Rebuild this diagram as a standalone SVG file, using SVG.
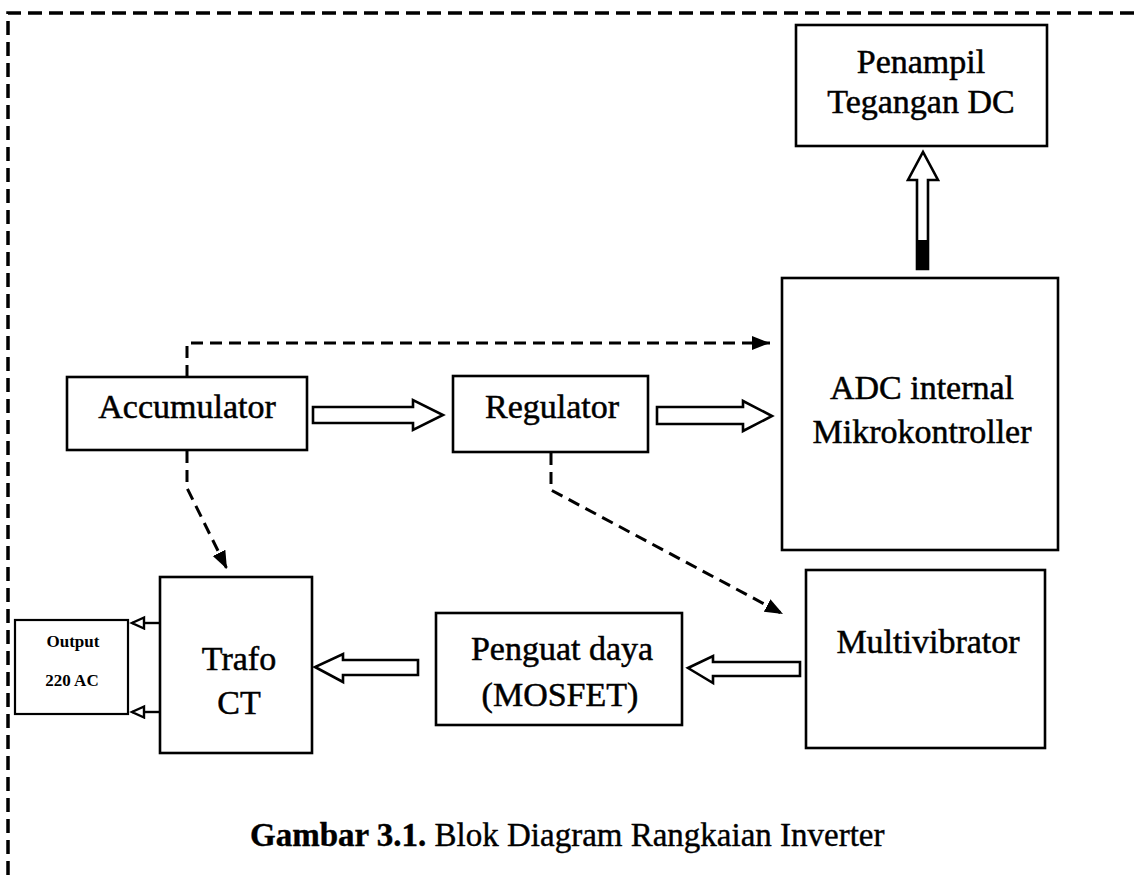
<svg xmlns="http://www.w3.org/2000/svg" width="1139" height="875" viewBox="0 0 1139 875">
  <style>
    .box { fill: #fff; stroke: #000; stroke-width: 2.6; }
    .lbl { font-family: "Liberation Serif", "Times New Roman", serif; font-size: 34px; fill: #000; stroke: #000; stroke-width: 0.5; text-anchor: middle; }
    .sm { font-family: "Liberation Serif", "Times New Roman", serif; font-size: 17px; font-weight: bold; fill: #000; text-anchor: middle; }
    .blk { fill: #fff; stroke: #000; stroke-width: 2.6; stroke-linejoin: miter; }
    .dash { fill: none; stroke: #000; stroke-width: 3; stroke-dasharray: 12 7; }
    .thin { fill: none; stroke: #000; stroke-width: 2.4; }
    .frame { fill: none; stroke: #000; stroke-width: 3.5; stroke-dasharray: 14 7; }
  </style>
  <defs>
    <marker id="solidHead" markerUnits="userSpaceOnUse" markerWidth="20" markerHeight="16" refX="18" refY="7" orient="auto">
      <path d="M0,0 L18,7 L0,14 z" fill="#000"/>
    </marker>
    <marker id="openHead" markerUnits="userSpaceOnUse" markerWidth="18" markerHeight="16" refX="14" refY="7" orient="auto">
      <path d="M2,1.5 L14,7 L2,12.5 z" fill="#fff" stroke="#000" stroke-width="2.4"/>
    </marker>
  </defs>

  <rect width="1139" height="875" fill="#fff"/>
  <path class="frame" d="M8,875 V13 H1139"/>

  <g id="penampil">
    <rect class="box" x="796" y="25" width="251" height="121"/>
    <text class="lbl" x="921" y="73">Penampil</text>
    <text class="lbl" x="921" y="113">Tegangan DC</text>
  </g>

  <g id="adc">
    <rect class="box" x="782" y="278" width="276" height="272"/>
    <text class="lbl" x="922" y="399">ADC internal</text>
    <text class="lbl" x="922" y="443">Mikrokontroller</text>
  </g>

  <g id="accumulator">
    <rect class="box" x="67" y="377" width="240" height="73"/>
    <text class="lbl" x="187" y="418">Accumulator</text>
  </g>

  <g id="regulator">
    <rect class="box" x="453" y="376" width="195" height="76"/>
    <text class="lbl" x="552" y="418">Regulator</text>
  </g>

  <g id="multivibrator">
    <rect class="box" x="806" y="570" width="239" height="178"/>
    <text class="lbl" x="928" y="653">Multivibrator</text>
  </g>

  <g id="penguat">
    <rect class="box" x="436" y="613" width="246" height="112"/>
    <text class="lbl" x="562" y="660">Penguat daya</text>
    <text class="lbl" x="560" y="706">(MOSFET)</text>
  </g>

  <g id="trafo">
    <rect class="box" x="160" y="577" width="152" height="176"/>
    <text class="lbl" x="239" y="670">Trafo</text>
    <text class="lbl" x="239" y="714">CT</text>
  </g>

  <g id="output">
    <rect class="box" x="15" y="620" width="113" height="94" style="stroke-width:2.2"/>
    <text class="sm" x="73" y="647">Output</text>
    <text class="sm" x="72" y="686">220 AC</text>
  </g>

  <g id="connectors">
    <polygon class="blk" points="313,407 413,407 413,400 443,415 413,430 413,423 313,423"/>
    <polygon class="blk" points="657,407 743,407 743,401 772,416 743,431 743,424 657,424"/>
    <polygon class="blk" points="917,269 917,180 908,180 923,152 938,180 928,180 928,269"/>
    <rect x="917" y="240" width="11" height="29" fill="#000"/>
    <polygon class="blk" points="800,662 713,662 713,656 688,668 713,683 713,676 800,676"/>
    <polygon class="blk" points="418,660 343,660 343,654 315,667 343,682 343,675 418,675"/>
    <path class="dash" d="M187,377 V343 H770" marker-end="url(#solidHead)"/>
    <path class="dash" d="M187,451 V488 L227,569" marker-end="url(#solidHead)"/>
    <path class="dash" d="M551,453 V490 L783,614" marker-end="url(#solidHead)"/>
    <path class="thin" d="M160,623 H132" marker-end="url(#openHead)"/>
    <path class="thin" d="M160,712 H132" marker-end="url(#openHead)"/>
  </g>

  <text x="250" y="846" style="font-family:'Liberation Serif','Times New Roman',serif;font-size:33px;fill:#000;stroke:#000;stroke-width:0.4"><tspan font-weight="bold">Gambar 3.1.</tspan> Blok Diagram Rangkaian Inverter</text>
</svg>
